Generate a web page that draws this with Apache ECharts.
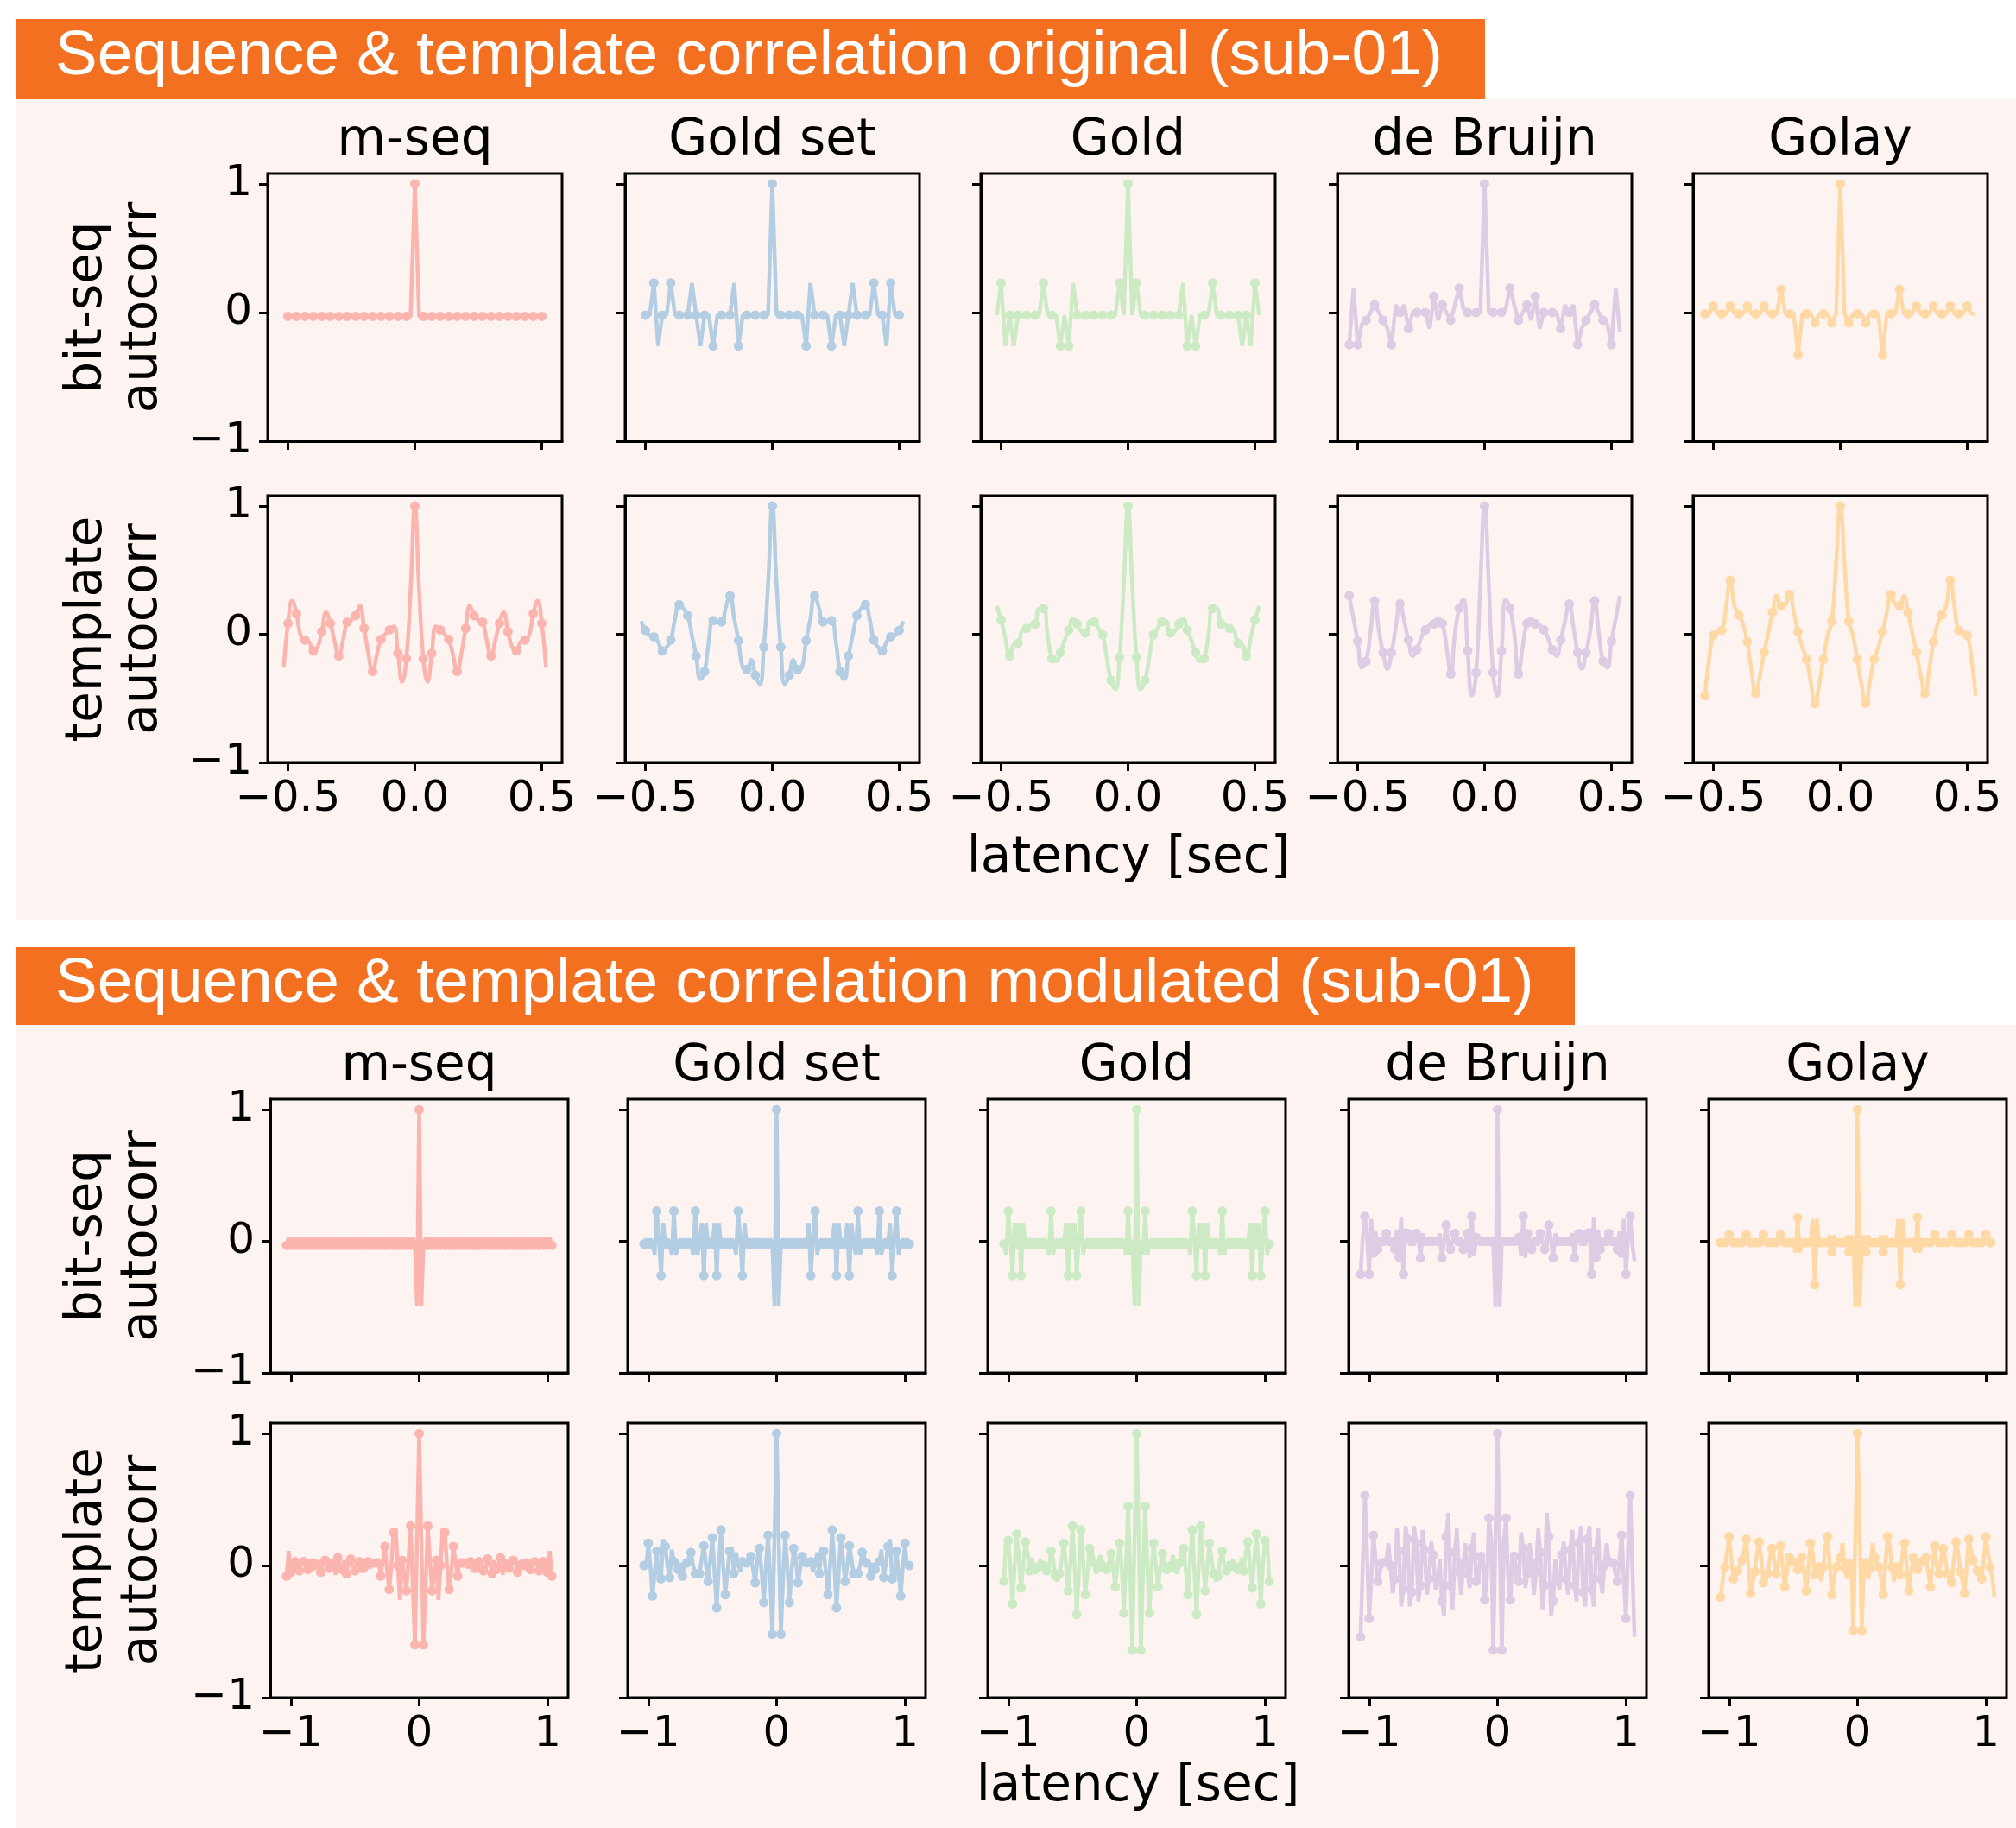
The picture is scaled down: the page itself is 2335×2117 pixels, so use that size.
<!DOCTYPE html>
<html>
<head>
<meta charset="utf-8">
<script src="https://cdn.jsdelivr.net/npm/echarts@6/dist/echarts.min.js"></script>
<style>
html,body{margin:0;padding:0;background:#fff}
#chart{width:2335px;height:2117px}
</style>
</head>
<body>
<div id="chart"></div>
<script>
// sequence names + pastel colours (one column each)
var seqNames = ['m-seq', 'Gold set', 'Gold', 'de Bruijn', 'Golay'];
var seqColors = ['#fbb4ae', '#b3cde3', '#ccebc5', '#decbe4', '#fed9a6'];

// first lag of each column: original in 1/60 s steps, modulated in 1/30 s steps (half steps in between)
var origLagStart = [-31, -31, -31, -32, -32];
var modLagStart = [-31, -31, -31, -32, -32];

var origTicks = [-0.5, 0, 0.5];
var modTicks = [-1, 0, 1];
var yTicks = [-1, 0, 1];

// ---- original: bit-seq autocorr ----
var origBitMseq = [
-0.03,-0.03,-0.03,-0.03,-0.03,-0.03,-0.03,-0.03,-0.03,-0.03,
-0.03,-0.03,-0.03,-0.03,-0.03,-0.03,-0.03,-0.03,-0.03,-0.03,
-0.03,-0.03,-0.03,-0.03,-0.03,-0.03,-0.03,-0.03,-0.03,-0.03,
-0.03, 1, -0.03,
-0.03,-0.03,-0.03,-0.03,-0.03,-0.03,-0.03,-0.03,-0.03,-0.03,
-0.03,-0.03,-0.03,-0.03,-0.03,-0.03,-0.03,-0.03,-0.03,-0.03,
-0.03,-0.03,-0.03,-0.03,-0.03,-0.03,-0.03,-0.03,-0.03,-0.03];
var origBitGoldSet = [
-0.02,-0.02,-0.02,0.23,-0.26,-0.02,-0.02,0.23,-0.02,-0.02,
-0.02,-0.02,0.23,-0.02,-0.26,-0.02,-0.02,-0.26,-0.02,-0.02,
-0.02,-0.02,0.23,-0.26,-0.02,-0.02,-0.02,-0.02,-0.02,-0.02,
-0.02, 1,
-0.02,-0.02,-0.02,-0.02,-0.02,-0.02,-0.02,-0.26,0.23,-0.02,
-0.02,-0.02,-0.02,-0.26,-0.02,-0.02,-0.26,-0.02,0.23,-0.02,
-0.02,-0.02,-0.02,0.23,-0.02,-0.02,-0.26,0.23,-0.02,-0.02,
-0.02];
var origBitGold = [
-0.02,0.23,-0.26,-0.02,-0.26,-0.02,-0.02,-0.02,-0.02,-0.02,
-0.02,0.23,-0.02,-0.02,-0.02,-0.26,-0.02,-0.26,0.23,-0.02,
-0.02,-0.02,-0.02,-0.02,-0.02,-0.02,-0.02,-0.02,-0.02,0.23,
-0.02, 1,
-0.02,0.23,-0.02,-0.02,-0.02,-0.02,-0.02,-0.02,-0.02,-0.02,
-0.02,-0.02,0.23,-0.26,-0.02,-0.26,-0.02,-0.02,-0.02,0.23,
-0.02,-0.02,-0.02,-0.02,-0.02,-0.02,-0.26,-0.02,-0.26,0.23,
-0.02];
var origBitDeBruijn = [
-0.25,0.19,-0.25,-0.09,-0.06,0,0.06,0,-0.06,-0.12,
-0.25,0.06,0,0.06,-0.125,0,0,0,0,-0.125,
0.125,-0.06,0.06,0,-0.06,0.06,0.19,0.03,0,0,
0,0, 1,
0,0,0,0,0.03,0.19,0.06,-0.06,0,0.06,
-0.06,0.125,-0.125,0,0,0,0,-0.125,0.06,0,
0.06,-0.25,-0.12,-0.06,0,0.06,0,-0.06,-0.09,-0.25,
0.19,-0.15];
var origBitGolay = [
-0.01,-0.01,0.05,-0.01,-0.01,-0.01,0.05,-0.01,-0.01,-0.01,
0.05,-0.01,-0.01,-0.01,0.05,-0.01,-0.01,-0.01,0.18,-0.01,
-0.01,-0.01,-0.33,-0.01,-0.01,-0.01,-0.08,-0.01,-0.01,-0.01,
-0.08,-0.01, 1,
-0.01,-0.08,-0.01,-0.01,-0.01,-0.08,-0.01,-0.01,-0.01,-0.33,
-0.01,-0.01,-0.01,0.18,-0.01,-0.01,-0.01,0.05,-0.01,-0.01,
-0.01,0.05,-0.01,-0.01,-0.01,0.05,-0.01,-0.01,-0.01,0.05,
-0.01,-0.01];

// ---- original: template autocorr ----
var origTplMseq = [
-0.26,0.085,0.26,0.16,-0.01,-0.045,-0.06,-0.13,-0.10,0.02,
0.17,0.085,-0.05,-0.17,-0.05,0.094,0.11,0.145,0.22,0.045,
-0.15,-0.29,-0.16,-0.04,0.00,0.034,0.06,-0.15,-0.37,-0.19,
0.35, 1,
0.35,-0.19,-0.37,-0.15,0.06,0.034,0.00,-0.04,-0.16,-0.29,
-0.15,0.045,0.22,0.145,0.11,0.094,-0.05,-0.17,-0.05,0.085,
0.17,0.02,-0.10,-0.13,-0.06,-0.045,-0.01,0.16,0.26,0.085,
-0.26];
var origTplGoldSet = [
0.10,0.03,-0.01,-0.02,-0.06,-0.13,-0.10,-0.045,0.12,0.23,
0.20,0.145,-0.01,-0.17,-0.35,-0.29,-0.05,0.105,0.10,0.096,
0.21,0.30,0.12,-0.05,-0.26,-0.275,-0.20,-0.32,-0.39,-0.10,
0.39, 1,
0.39,-0.10,-0.39,-0.32,-0.20,-0.275,-0.26,-0.05,0.12,0.30,
0.21,0.096,0.10,0.105,-0.05,-0.29,-0.35,-0.17,-0.01,0.145,
0.20,0.23,0.12,-0.045,-0.10,-0.13,-0.06,-0.02,-0.01,0.03,
0.10];
var origTplGold = [
0.22,0.11,-0.03,-0.17,-0.08,-0.07,0.03,0.045,0.07,0.08,
0.20,0.20,-0.01,-0.19,-0.21,-0.145,-0.05,0.034,0.12,0.08,
0.02,0.01,0.10,0.096,0.045,-0.005,-0.19,-0.36,-0.43,-0.18,
0.39, 1,
0.39,-0.18,-0.43,-0.36,-0.19,-0.005,0.045,0.096,0.10,0.01,
0.02,0.08,0.12,0.034,-0.05,-0.145,-0.21,-0.19,-0.01,0.20,
0.20,0.08,0.07,0.045,0.03,-0.07,-0.08,-0.17,-0.03,0.11,
0.22];
var origTplDeBruijn = [
0.30,0.12,-0.055,-0.26,-0.21,0.01,0.26,0.03,-0.145,-0.27,
-0.145,0.055,0.235,0.10,-0.045,-0.17,-0.12,-0.03,0.034,0.07,
0.08,0.12,0.083,-0.10,-0.31,0.01,0.20,0.27,-0.13,-0.48,
-0.30,0.39, 1,
0.39,-0.30,-0.48,-0.13,0.27,0.20,0.01,-0.31,-0.10,0.083,
0.12,0.08,0.07,0.034,-0.03,-0.12,-0.17,-0.045,0.10,0.235,
0.055,-0.145,-0.27,-0.145,0.03,0.26,0.01,-0.21,-0.26,-0.055,
0.12,0.30];
var origTplGolay = [
-0.48,-0.19,-0.01,0.02,0.03,0.21,0.42,0.22,0.15,0.08,
-0.06,-0.28,-0.46,-0.32,-0.14,0.01,0.17,0.30,0.22,0.23,
0.31,0.17,0.02,-0.10,-0.195,-0.37,-0.54,-0.39,-0.195,-0.01,
0.10,0.55, 1,
0.55,0.10,-0.01,-0.195,-0.39,-0.54,-0.37,-0.195,-0.10,0.02,
0.17,0.31,0.23,0.22,0.30,0.17,0.01,-0.14,-0.32,-0.46,
-0.28,-0.06,0.08,0.15,0.22,0.42,0.21,0.03,0.02,-0.01,
-0.19,-0.48];

// ---- modulated: bit-seq autocorr ----
var modBitMseq = [
-0.03,0.03,-0.03,0.03,-0.03,0.03,-0.03,0.03,-0.03,0.03,
-0.03,0.03,-0.03,0.03,-0.03,0.03,-0.03,0.03,-0.03,0.03,
-0.03,0.03,-0.03,0.03,-0.03,0.03,-0.03,0.03,-0.03,0.03,
-0.03,0.03,-0.03,0.03,-0.03,0.03,-0.03,0.03,-0.03,0.03,
-0.03,0.03,-0.03,0.03,-0.03,0.03,-0.03,0.03,-0.03,0.03,
-0.03,0.03,-0.03,0.03,-0.03,0.03,-0.03,0.03,-0.03,0.03,
-0.03,-0.49, 1, -0.49,-0.03,
0.03,-0.03,0.03,-0.03,0.03,-0.03,0.03,-0.03,0.03,-0.03,
0.03,-0.03,0.03,-0.03,0.03,-0.03,0.03,-0.03,0.03,-0.03,
0.03,-0.03,0.03,-0.03,0.03,-0.03,0.03,-0.03,0.03,-0.03,
0.03,-0.03,0.03,-0.03,0.03,-0.03,0.03,-0.03,0.03,-0.03,
0.03,-0.03,0.03,-0.03,0.03,-0.03,0.03,-0.03,0.03,-0.03,
0.03,-0.03,0.03,-0.03,0.03,-0.03,0.03,-0.03,0.03,-0.03];
var modBitGoldSet = [
-0.02,0.02,-0.02,0.02,-0.02,-0.1,0.23,0.02,-0.26,0.14,
-0.02,0.02,-0.02,-0.1,0.23,-0.1,-0.02,0.02,-0.02,0.02,
-0.02,0.02,-0.02,-0.1,0.23,-0.1,-0.02,0.14,-0.26,0.14,
-0.02,0.02,-0.02,0.14,-0.26,0.14,-0.02,0.02,-0.02,0.02,
-0.02,0.02,-0.02,-0.1,0.23,0.02,-0.26,0.14,-0.02,0.02,
-0.02,0.02,-0.02,0.02,-0.02,0.02,-0.02,0.02,-0.02,0.02,
-0.02,-0.49, 1, -0.49,-0.02,
0.02,-0.02,0.02,-0.02,0.02,-0.02,0.02,-0.02,0.02,-0.02,
0.02,-0.02,0.14,-0.26,0.02,0.23,-0.1,-0.02,0.02,-0.02,
0.02,-0.02,0.02,-0.02,0.14,-0.26,0.14,-0.02,0.02,-0.02,
0.14,-0.26,0.14,-0.02,-0.1,0.23,-0.1,-0.02,0.02,-0.02,
0.02,-0.02,0.02,-0.02,-0.1,0.23,-0.1,-0.02,0.02,-0.02,
0.14,-0.26,0.02,0.23,-0.1,-0.02,0.02,-0.02,0.02,-0.02];
var modBitGold = [
-0.02,-0.1,0.23,0.02,-0.26,0.14,-0.02,0.14,-0.26,0.14,
-0.02,0.02,-0.02,0.02,-0.02,0.02,-0.02,0.02,-0.02,0.02,
-0.02,-0.1,0.23,-0.1,-0.02,0.02,-0.02,0.02,-0.02,0.14,
-0.26,0.14,-0.02,0.14,-0.26,0.02,0.23,-0.1,-0.02,0.02,
-0.02,0.02,-0.02,0.02,-0.02,0.02,-0.02,0.02,-0.02,0.02,
-0.02,0.02,-0.02,0.02,-0.02,0.02,-0.02,-0.1,0.23,-0.1,
-0.02,-0.49, 1, -0.49,-0.02,
-0.1,0.23,-0.1,-0.02,0.02,-0.02,0.02,-0.02,0.02,-0.02,
0.02,-0.02,0.02,-0.02,0.02,-0.02,0.02,-0.02,0.02,-0.02,
0.02,-0.02,-0.1,0.23,0.02,-0.26,0.14,-0.02,0.14,-0.26,
0.14,-0.02,0.02,-0.02,0.02,-0.02,-0.1,0.23,-0.1,-0.02,
0.02,-0.02,0.02,-0.02,0.02,-0.02,0.02,-0.02,0.02,-0.02,
0.14,-0.26,0.14,-0.02,0.14,-0.26,0.02,0.23,-0.1,-0.02];
var modBitDeBruijn = [
-0.25,0.03,0.19,0.03,-0.25,0.17,-0.09,0.075,-0.06,0.03,
0,-0.03,0.06,-0.03,0,0.03,-0.06,0.09,-0.12,0.185,
-0.25,0.095,0.06,-0.03,0,-0.03,0.06,0.03,-0.125,0.06,
0,0,0,0,0,0,0,0.06,-0.125,0,
0.125,-0.03,-0.06,0,0.06,-0.03,0,0.03,-0.06,0,
0.06,-0.125,0.19,-0.11,0.03,-0.015,0,0,0,0,
0,0,0,-0.5, 1, -0.5,0,0,0,
0,0,0,0,-0.015,0.03,-0.11,0.19,-0.125,0.06,
0,-0.06,0.03,0,-0.03,0.06,0,-0.06,-0.03,0.125,
0,-0.125,0.06,0,0,0,0,0,0,0,
0.06,-0.125,0.03,0.06,-0.03,0,-0.03,0.06,0.095,-0.25,
0.185,-0.12,0.09,-0.06,0.03,0,-0.03,0.06,-0.03,0,
0.03,-0.06,0.075,-0.09,0.17,-0.25,0.03,0.19,-0.02,-0.15];
var modBitGolay = [
-0.01,0.01,-0.01,-0.02,0.05,-0.02,-0.01,0.01,-0.01,0.01,
-0.01,-0.02,0.05,-0.02,-0.01,0.01,-0.01,0.01,-0.01,-0.02,
0.05,-0.02,-0.01,0.01,-0.01,0.01,-0.01,-0.02,0.05,-0.02,
-0.01,0.01,-0.01,0.01,-0.01,-0.085,0.18,-0.085,-0.01,0.01,
-0.01,0.01,-0.01,0.17,-0.33,0.17,-0.01,0.01,-0.01,0.01,
-0.01,0.045,-0.08,0.045,-0.01,0.01,-0.01,0.01,-0.01,0.045,
-0.08,0.045,-0.01,-0.5, 1, -0.5,-0.01,0.045,-0.08,
0.045,-0.01,0.01,-0.01,0.01,-0.01,0.045,-0.08,0.045,-0.01,
0.01,-0.01,0.01,-0.01,0.17,-0.33,0.17,-0.01,0.01,-0.01,
0.01,-0.01,-0.085,0.18,-0.085,-0.01,0.01,-0.01,0.01,-0.01,
-0.02,0.05,-0.02,-0.01,0.01,-0.01,0.01,-0.01,-0.02,0.05,
-0.02,-0.01,0.01,-0.01,0.01,-0.01,-0.02,0.05,-0.02,-0.01,
0.01,-0.01,0.01,-0.01,-0.02,0.05,-0.02,-0.01,0.01,-0.01];

// ---- modulated: template autocorr ----
var modTplMseq = [
-0.08,0.11,-0.05,-0.07,0.03,-0.02,-0.04,0.04,0.03,0.00,
-0.03,0.04,0.02,-0.03,0.01,0.03,-0.05,0.02,0.04,0.06,
-0.02,0.01,0.02,-0.07,0.06,0.01,-0.03,0.04,-0.06,0.02,
0.05,-0.03,-0.04,0.05,0.03,-0.05,-0.02,0.04,0.03,-0.02,
0.02,0.04,0.02,0.05,-0.08,0.03,0.145,-0.05,-0.18,0.00,
0.25,0.28,0.00,-0.26,0.04,-0.07,-0.19,0.05,0.30,-0.15,
-0.60,0.20, 1, 0.20,-0.60,
-0.15,0.30,0.05,-0.19,-0.07,0.04,-0.26,0.00,0.28,0.25,
0.00,-0.18,-0.05,0.145,0.03,-0.08,0.05,0.02,0.04,0.02,
-0.02,0.03,0.04,-0.02,-0.05,0.03,0.05,-0.04,-0.03,0.05,
0.02,-0.06,0.04,-0.03,0.01,0.06,-0.07,0.02,0.01,-0.02,
0.06,0.04,0.02,-0.05,0.03,0.01,-0.03,0.02,0.04,-0.03,
0.00,0.03,0.04,-0.04,-0.02,0.03,-0.07,-0.05,0.11,-0.08];
var modTplGoldSet = [
0.0,-0.02,0.17,0.0,-0.23,-0.05,0.11,-0.12,-0.10,0.2,
0.145,0.0,-0.09,0.12,0.03,0.05,-0.03,0.02,-0.08,0.03,
0.02,0.06,0.10,0.0,-0.06,-0.06,-0.06,0.05,0.15,0.0,
-0.12,0.05,0.21,-0.05,-0.32,0.0,0.27,0.0,-0.22,-0.05,
0.11,0.14,-0.06,0.1,0.02,-0.05,0.03,0.02,0.02,0.06,
0.07,-0.03,-0.13,0.05,0.13,-0.05,-0.28,0.0,0.23,-0.1,
-0.52,0.2, 1, 0.2,-0.52,
-0.1,0.23,0.0,-0.28,-0.05,0.13,0.05,-0.13,-0.03,0.07,
0.06,0.02,0.02,0.03,-0.05,0.02,0.1,-0.06,0.14,0.11,
-0.05,-0.22,0.0,0.27,0.0,-0.32,-0.05,0.21,0.05,-0.12,
0.0,0.15,0.05,-0.06,-0.06,-0.06,0.0,0.10,0.06,0.02,
0.03,-0.08,0.02,-0.03,0.05,0.03,0.12,-0.09,0.0,0.145,
0.2,-0.10,-0.12,0.11,-0.05,-0.23,0.0,0.17,-0.02,0.0];
var modTplGold = [
-0.12,0.2,0.19,0.0,-0.29,0.0,0.24,0.05,-0.17,0.0,
0.18,0.1,-0.04,0.06,-0.02,-0.06,-0.01,0.05,0.0,0.03,
-0.04,-0.02,0.11,0.05,-0.08,-0.12,-0.06,0.05,0.17,0.0,
-0.19,0.0,0.30,0.0,-0.37,-0.05,0.27,0.05,-0.22,-0.05,
0.13,0.12,0.02,-0.06,-0.02,0.08,0.0,-0.05,-0.03,0.02,
0.09,-0.02,-0.16,0.0,0.17,0.0,-0.36,0.0,0.45,-0.05,
-0.64,0.2, 1, 0.2,-0.64,
-0.05,0.45,0.0,-0.36,0.0,0.17,0.0,-0.16,-0.02,0.09,
0.02,-0.03,-0.05,0.0,0.08,-0.02,-0.06,0.02,0.12,0.13,
-0.05,-0.22,0.05,0.27,-0.05,-0.37,0.0,0.30,0.0,-0.19,
0.0,0.17,0.05,-0.06,-0.12,-0.08,0.05,0.11,-0.02,-0.04,
0.03,0.0,0.05,-0.01,-0.06,-0.02,0.06,-0.04,0.1,0.18,
0.0,-0.17,0.05,0.24,0.0,-0.29,0.0,0.19,0.2,-0.12];
var modTplDeBruijn = [
-0.54,0.0,0.53,0.1,-0.40,-0.1,0.23,0.05,-0.12,-0.05,
0.02,0.05,0.03,0.17,0.0,-0.21,-0.1,0.28,0.11,-0.31,
-0.18,0.30,0.2,-0.31,-0.2,0.3,0.17,-0.27,-0.15,0.27,
0.12,-0.22,-0.1,0.18,0.08,-0.18,-0.12,0.05,-0.27,-0.38,
0.22,0.40,-0.15,-0.33,0.1,0.28,-0.05,-0.22,0.02,0.17,
-0.06,-0.17,0.13,0.25,-0.12,-0.11,0.07,0.1,-0.26,-0.1,
0.36,0.2,-0.64,0.2, 1, 0.2,-0.64,0.2,0.36,
-0.1,-0.26,0.1,0.07,-0.11,-0.12,0.25,0.13,-0.17,-0.06,
0.17,0.02,-0.22,-0.05,0.28,0.1,-0.33,-0.15,0.40,0.22,
-0.38,-0.27,0.05,-0.12,-0.18,0.08,0.18,-0.1,-0.22,0.12,
0.27,-0.15,-0.27,0.17,0.3,-0.2,-0.31,0.2,0.30,-0.18,
-0.31,0.11,0.28,-0.1,-0.21,0.0,0.17,0.03,0.05,0.02,
-0.05,-0.12,0.05,0.23,-0.1,-0.40,0.1,0.53,0.0,-0.54];
var modTplGolay = [
-0.24,-0.1,-0.01,0.1,0.22,0.05,-0.10,-0.08,-0.04,0.0,
0.04,0.12,0.20,0.0,-0.21,-0.12,-0.045,0.1,0.18,0.05,
-0.13,-0.12,-0.06,0.05,0.13,0.05,-0.06,0.0,0.15,0.0,
-0.16,-0.05,0.06,0.05,0.03,0.0,-0.03,0.02,0.06,-0.05,
-0.19,-0.02,0.17,0.1,-0.07,-0.03,-0.01,-0.12,-0.01,0.15,
0.22,0.0,-0.22,-0.1,-0.01,0.02,0.06,0.17,-0.02,-0.1,
0.02,0.05,-0.49,0.25, 1, 0.25,-0.49,0.05,0.02,
-0.1,-0.02,0.17,0.06,0.02,-0.01,-0.1,-0.22,0.0,0.22,
0.15,-0.01,-0.12,-0.01,-0.03,-0.07,0.1,0.17,-0.02,-0.19,
-0.05,0.06,0.02,-0.03,0.0,0.03,0.05,0.06,-0.05,-0.16,
0.0,0.15,0.0,-0.06,0.05,0.13,0.05,-0.06,-0.12,-0.13,
0.05,0.18,0.1,-0.045,-0.12,-0.21,0.0,0.20,0.12,0.04,
0.0,-0.04,-0.08,-0.10,0.05,0.22,0.1,-0.01,-0.1,-0.24];

var rowData = [
  [origBitMseq, origBitGoldSet, origBitGold, origBitDeBruijn, origBitGolay],
  [origTplMseq, origTplGoldSet, origTplGold, origTplDeBruijn, origTplGolay],
  [modBitMseq, modBitGoldSet, modBitGold, modBitDeBruijn, modBitGolay],
  [modTplMseq, modTplGoldSet, modTplGold, modTplDeBruijn, modTplGolay]
];

// layout (px)
var colLeft = [[310, 724, 1136, 1549, 1961], [313, 727, 1144, 1562, 1979]];
var colWidth = [341, 345];
var rowBox = [[201, 310], [574, 309], [1273, 317], [1648, 318]];
var rowLabels = ['bit-seq\nautocorr', 'template\nautocorr', 'bit-seq\nautocorr', 'template\nautocorr'];

var fontTxt = 'DejaVu Sans';
function minus(s){ return String(s).replace('-', '\u2212'); }

var grids = [], xAxes = [], yAxes = [], series = [];
for (var r = 0; r < 4; r++) {
  var isOrig = r < 2;
  var sec = isOrig ? 0 : 1;
  for (var c = 0; c < 5; c++) {
    var idx = r * 5 + c;
    grids.push({
      left: colLeft[sec][c], top: rowBox[r][0], width: colWidth[sec], height: rowBox[r][1],
      show: true, borderColor: '#000', borderWidth: 3, backgroundColor: 'transparent'
    });
    var xt = isOrig ? origTicks : modTicks;
    xAxes.push({
      gridIndex: idx, type: 'value', position: 'bottom',
      min: isOrig ? -0.58 : -1.16, max: isOrig ? 0.58 : 1.16,
      axisLine: {show: true, onZero: false, lineStyle: {color: '#000', width: 3}},
      splitLine: {show: false},
      axisTick: {show: true, length: 10, customValues: xt, lineStyle: {color: '#000', width: 3}},
      axisLabel: {
        show: r === 1 || r === 3, customValues: xt, margin: 18,
        fontSize: 50, fontFamily: fontTxt, color: '#000',
        formatter: (function(o){ return function(v){ return minus(o ? v.toFixed(1) : String(Math.round(v))); }; })(isOrig)
      }
    });
    yAxes.push({
      gridIndex: idx, type: 'value', min: -1, max: 1.08,
      axisLine: {show: true, onZero: false, lineStyle: {color: '#000', width: 3}},
      splitLine: {show: false},
      axisTick: {show: true, length: 10, customValues: yTicks, lineStyle: {color: '#000', width: 3}},
      axisLabel: {
        show: c === 0, customValues: yTicks, margin: 18,
        fontSize: 50, fontFamily: fontTxt, color: '#000',
        formatter: function(v){ return minus(v); }
      }
    });

    var vals = rowData[r][c];
    var lag0 = isOrig ? origLagStart[c] : modLagStart[c];
    var line = [], dots = [];
    for (var i = 0; i < vals.length; i++) {
      var lag = isOrig ? lag0 + i : lag0 + i / 2;
      var x = isOrig ? lag / 60 : lag / 30;
      line.push([x, vals[i]]);
      var isDot = isOrig ? (lag % 2 === 0 && lag <= 30) : (i % 2 === 0 && lag <= 31);
      if (isDot) dots.push([x, vals[i]]);
    }
    series.push({
      type: 'line', xAxisIndex: idx, yAxisIndex: idx, data: line,
      symbol: 'none', smooth: r === 1 ? 0.5 : false,
      lineStyle: {color: seqColors[c], width: 4.5}, itemStyle: {color: seqColors[c]},
      silent: true, animation: false, z: 2
    });
    series.push({
      type: 'scatter', xAxisIndex: idx, yAxisIndex: idx, data: dots,
      symbolSize: 11, itemStyle: {color: seqColors[c], opacity: 1},
      silent: true, animation: false, z: 3
    });
  }
}

var graphics = [
  {type: 'rect', shape: {x: 18, y: 115, width: 2317, height: 950}, style: {fill: '#fdf4f2'}, z: -10},
  {type: 'rect', shape: {x: 18, y: 1187, width: 2317, height: 930}, style: {fill: '#fdf4f2'}, z: -10},
  {type: 'rect', shape: {x: 18, y: 22, width: 1702, height: 93}, style: {fill: '#f37021'}, z: -9},
  {type: 'rect', shape: {x: 18, y: 1097, width: 1806, height: 90}, style: {fill: '#f37021'}, z: -9},
  {type: 'text', x: 64, y: 66, style: {text: 'Sequence & template correlation original (sub-01)', fill: '#fff',
    font: '73px "Liberation Sans"', textAlign: 'left', textVerticalAlign: 'middle'}},
  {type: 'text', x: 64, y: 1140, style: {text: 'Sequence & template correlation modulated (sub-01)', fill: '#fff',
    font: '73px "Liberation Sans"', textAlign: 'left', textVerticalAlign: 'middle'}},
  {type: 'text', x: 1307, y: 995, style: {text: 'latency [sec]', fill: '#000',
    font: '58px "DejaVu Sans"', textAlign: 'center', textVerticalAlign: 'middle'}},
  {type: 'text', x: 1318, y: 2070, style: {text: 'latency [sec]', fill: '#000',
    font: '58px "DejaVu Sans"', textAlign: 'center', textVerticalAlign: 'middle'}}
];
var titleY = [164, 1236];
for (var s = 0; s < 2; s++) {
  for (var c2 = 0; c2 < 5; c2++) {
    graphics.push({type: 'text', x: colLeft[s][c2] + colWidth[s] / 2, y: titleY[s],
      style: {text: seqNames[c2], fill: '#000', font: '58px "DejaVu Sans"', textAlign: 'center', textVerticalAlign: 'middle'}});
  }
}
for (var r2 = 0; r2 < 4; r2++) {
  graphics.push({type: 'text', x: 134, y: rowBox[r2][0] + rowBox[r2][1] * 0.5, rotation: Math.PI / 2,
    style: {text: rowLabels[r2], fill: '#000', font: '58px "DejaVu Sans"', lineHeight: 64,
      textAlign: 'center', textVerticalAlign: 'middle'}});
}

var myChart = echarts.init(document.getElementById('chart'), null, {renderer: 'canvas'});
myChart.setOption({
  backgroundColor: '#ffffff',
  animation: false,
  grid: grids,
  xAxis: xAxes,
  yAxis: yAxes,
  series: series,
  graphic: graphics
});
</script>
</body>
</html>
